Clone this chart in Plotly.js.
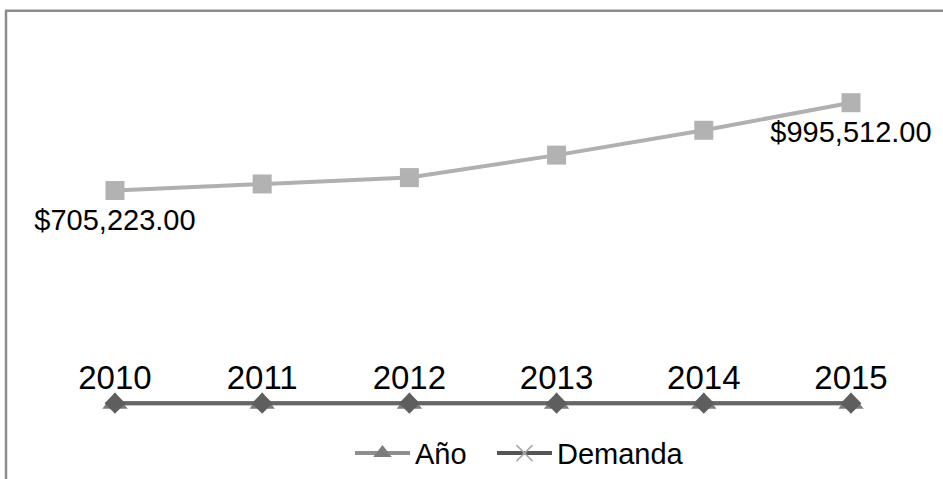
<!DOCTYPE html>
<html>
<head>
<meta charset="utf-8">
<script src="https://cdn.plot.ly/plotly-3.0.1.min.js"></script>
<style>html,body{margin:0;padding:0;background:#fff;}#chart{width:943px;height:479px;}</style>
</head>
<body>
<div id="chart"></div>
<script>
// Data
const years = ['2010', '2011', '2012', '2013', '2014', '2015'];
const anio = [2010, 2011, 2012, 2013, 2014, 2015];
const demanda = [705223, 726900, 747960, 822250, 904440, 995512];
const demandaLabels = ['$705,223.00', '', '', '', '', '$995,512.00'];
const seriesNames = ['Año', 'Demanda'];

const W = 943, H = 479;
const px = v => v / W;
const py = v => 1 - v / H;
const FONT = 'Liberation Sans, Arial, sans-serif';

const traces = [
  {
    x: years, y: anio, name: seriesNames[0], type: 'scatter', mode: 'lines+markers',
    line: {color: '#8f8f8f', width: 4},
    marker: {symbol: 'triangle-up', size: 22, color: '#7c7c7c'},
    cliponaxis: false, hoverinfo: 'skip', legend: 'legend'
  },
  {
    x: years, y: anio, name: seriesNames[0], type: 'scatter', mode: 'lines+markers',
    line: {color: '#666666', width: 4},
    marker: {symbol: 'diamond', size: 16, color: '#5e5e5e'},
    showlegend: false, cliponaxis: false, hoverinfo: 'skip'
  },
  {
    x: years, y: anio, type: 'scatter', mode: 'markers+text',
    text: anio.map(String), textposition: 'top center',
    textfont: {family: FONT, size: 33, color: '#000'},
    marker: {size: 8, opacity: 0},
    showlegend: false, cliponaxis: false, hoverinfo: 'skip'
  },
  {
    x: years, y: demanda, name: seriesNames[1], type: 'scatter', mode: 'lines+markers',
    line: {color: '#b0b0b0', width: 4},
    marker: {symbol: 'square', size: 19, color: '#b2b2b2'},
    showlegend: false, cliponaxis: false, hoverinfo: 'skip'
  },
  {
    x: years, y: demanda, type: 'scatter', mode: 'markers+text',
    text: demandaLabels, textposition: 'bottom center',
    textfont: {family: FONT, size: 29, color: '#000'},
    marker: {size: 27, opacity: 0},
    showlegend: false, cliponaxis: false, hoverinfo: 'skip'
  },
  {
    x: [null], y: [null], name: seriesNames[1], type: 'scatter', mode: 'lines+markers',
    line: {color: '#555555', width: 4},
    marker: {symbol: 'x-thin-open', size: 16, color: '#a8a8a8', line: {color: '#a8a8a8', width: 1.5}},
    hoverinfo: 'skip', legend: 'legend2'
  }
];

const axisCommon = {visible: false, showgrid: false, zeroline: false, showticklabels: false, fixedrange: true};
const legendCommon = {
  orientation: 'h', xanchor: 'left', y: py(459), yanchor: 'middle',
  font: {family: FONT, size: 29, color: '#000'},
  bgcolor: 'rgba(0,0,0,0)', itemwidth: 55
};

const layout = {
  width: W, height: H,
  margin: {l: 0, r: 0, t: 0, b: 0, pad: 0},
  paper_bgcolor: '#ffffff', plot_bgcolor: '#ffffff',
  xaxis: Object.assign({}, axisCommon, {type: 'category', range: [-0.781, 5.625]}),
  yaxis: Object.assign({}, axisCommon, {range: [-228480, 1335000]}),
  showlegend: true,
  legend: Object.assign({}, legendCommon, {x: px(350)}),
  legend2: Object.assign({}, legendCommon, {x: px(492)}),
  shapes: [
    {type: 'line', xref: 'paper', yref: 'paper', x0: px(6), x1: px(6), y0: py(11), y1: -0.1,
     line: {color: '#8c8c8c', width: 2.5}},
    {type: 'line', xref: 'paper', yref: 'paper', x0: px(5), x1: 1.1, y0: py(11), y1: py(11),
     line: {color: '#8c8c8c', width: 2.5}}
  ]
};

Plotly.newPlot('chart', traces, layout, {staticPlot: true, displayModeBar: false});
</script>
</body>
</html>
